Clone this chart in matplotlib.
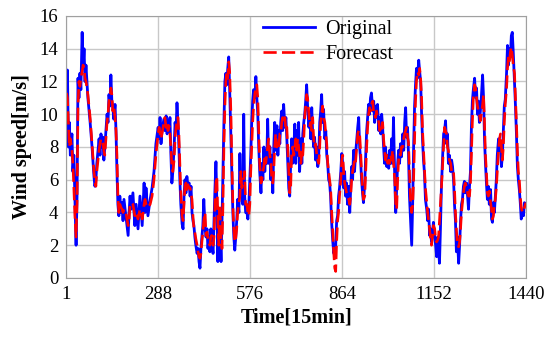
import matplotlib
matplotlib.use("Agg")
import matplotlib.pyplot as plt

t_a = [1, 4, 7, 10, 13, 18, 21, 24, 28, 31, 34, 37, 40, 43, 46, 50, 53, 56, 59, 62,
       68, 75, 81, 87, 90, 93, 96, 103, 106, 109, 112, 115, 118, 121, 128, 131, 134, 137, 140, 143,
       146, 149, 153, 156, 159, 162, 165, 168, 172, 175, 178, 181, 187, 194, 197, 200, 203, 209, 215, 219,
       225, 231]
orig_a = [11.3, 12.7, 8.0, 9.5, 7.5, 8.8, 6.5, 7.5, 4.5, 2.0, 5.0, 12.2, 11.0, 12.5, 11.5, 15.0, 12.8, 14.0, 12.0, 13.0,
          11.0, 9.5, 8.0, 6.2, 5.6, 6.0, 7.0, 8.5, 7.5, 8.8, 8.0, 8.6, 7.2, 8.0, 10.0, 9.5, 11.2, 10.5, 12.4, 10.8,
          10.5, 9.7, 10.6, 9.0, 6.5, 4.5, 3.8, 5.0, 4.0, 4.6, 3.5, 4.8, 3.8, 2.6, 4.0, 5.0, 4.2, 5.2, 3.2, 4.5,
          3.0, 5.0]
fore_a = [11.3, 11.0, 9.5, 8.0, 8.5, 7.8, 7.0, 5.5, 3.5, 2.5, 4.5, 10.5, 12.0, 11.7, 12.2, 12.6, 13.0, 12.8, 12.2, 12.0,
          11.2, 9.8, 8.2, 6.5, 6.0, 5.6, 6.5, 7.8, 8.2, 8.5, 8.3, 8.2, 7.8, 7.5, 9.5, 10.0, 10.8, 11.0, 11.6, 11.2,
          10.2, 10.5, 9.8, 9.0, 7.5, 5.0, 4.0, 4.5, 4.3, 4.2, 4.0, 4.2, 4.0, 3.2, 3.5, 4.5, 4.6, 4.5, 3.8, 4.0,
          3.6, 4.2]

t_b = [234, 238, 241, 244, 247, 250, 256, 263, 269, 275, 281, 288, 291, 294, 297, 300, 306, 309, 313, 316,
       319, 322, 325, 328, 331, 334, 338, 341, 344, 347, 350, 353, 356, 359, 363, 366, 369, 372, 375, 378,
       381, 385, 388, 391, 394, 397, 400, 403, 406, 410, 413, 416, 419, 422, 425, 428, 431, 435, 438, 441,
       444, 447, 450, 453, 456, 460, 463, 466, 469, 472, 475, 478, 481, 485, 488, 491, 494, 497, 500, 503,
       506, 509, 512, 516, 519, 522, 525, 528, 531, 534, 537, 541, 544, 547, 550, 553, 556, 559, 562, 566,
       569, 572]
orig_b = [4.2, 3.2, 4.5, 5.8, 4.0, 5.5, 3.8, 4.8, 5.5, 6.5, 8.2, 9.2, 8.5, 9.8, 8.2, 9.0, 9.7, 9.0, 9.9, 8.8,
          9.6, 9.0, 9.8, 7.5, 5.8, 6.5, 8.0, 9.5, 9.0, 10.7, 9.5, 8.0, 6.0, 4.5, 3.3, 3.0, 5.0, 6.0, 5.2, 6.2,
          5.6, 5.8, 5.0, 5.6, 4.0, 3.5, 3.2, 2.5, 2.0, 1.5, 1.8, 1.0, 0.6, 1.8, 2.5, 3.2, 4.8, 3.0, 2.5, 3.0,
          1.8, 2.5, 1.6, 3.0, 2.2, 1.5, 3.5, 5.5, 7.1, 4.5, 1.0, 4.0, 3.0, 1.0, 3.5, 6.5, 9.5, 12.0, 12.5, 11.8,
          12.8, 13.5, 11.5, 8.5, 6.0, 4.0, 2.5, 1.7, 2.5, 3.5, 4.8, 4.0, 7.6, 5.0, 6.0, 4.5, 10.0, 5.0, 4.0, 4.0,
          3.6, 4.5]
fore_b = [4.0, 3.6, 4.0, 4.5, 4.8, 4.5, 4.3, 4.5, 5.0, 6.0, 7.5, 8.8, 9.2, 8.8, 8.5, 8.8, 9.5, 9.8, 9.2, 9.5,
          9.0, 9.3, 8.8, 8.0, 6.8, 6.5, 7.2, 8.5, 9.2, 9.5, 9.8, 8.8, 7.0, 5.2, 3.8, 3.5, 4.5, 5.6, 5.8, 5.4,
          5.7, 5.5, 5.5, 5.2, 4.8, 3.8, 3.0, 2.8, 2.4, 2.0, 1.6, 1.3, 1.2, 1.5, 2.2, 2.8, 3.5, 4.0, 2.6, 2.8,
          2.4, 2.2, 2.0, 2.5, 2.6, 2.0, 2.5, 4.5, 5.8, 6.2, 3.5, 2.0, 4.5, 2.5, 1.8, 4.5, 8.0, 10.5, 12.0, 12.6,
          12.2, 13.2, 12.6, 10.0, 7.0, 4.5, 3.0, 2.2, 2.4, 3.0, 4.0, 4.6, 5.0, 6.5, 5.5, 5.8, 6.0, 6.5, 4.5, 4.5,
          4.0, 3.8]

t_c = [575, 578, 581, 584, 587, 591, 594, 597, 600, 603, 606, 610, 613, 616, 619, 622, 625, 628, 631, 634,
       638, 641, 644, 647, 650, 653, 656, 660, 663, 666, 669, 672, 675, 678, 681, 685, 688, 691, 694, 697,
       700, 703, 706, 709, 713, 716, 719, 722, 725, 728, 731, 735, 738, 741, 744, 747, 750, 753, 756, 760,
       763, 766, 769, 772, 775, 778, 781, 785, 788, 791, 794, 797, 800, 803, 806, 810, 813, 816, 819, 822,
       825, 828, 831, 835, 838, 841, 844, 847, 850, 853, 856, 860, 863, 866, 869, 872, 875, 878, 881, 885,
       888, 891, 894, 897, 900, 903, 906, 910, 913, 916, 919, 922, 925, 928, 931, 935, 938, 941, 944, 947,
       950, 953, 956, 960, 963]
orig_c = [6.0, 7.5, 9.5, 10.8, 11.5, 11.0, 12.3, 11.0, 10.0, 8.0, 6.5, 5.2, 7.0, 6.0, 8.0, 6.5, 7.8, 7.0, 9.7, 7.0,
          8.0, 6.0, 7.5, 5.2, 8.0, 9.5, 7.8, 9.3, 7.5, 9.0, 8.2, 9.5, 10.2, 9.0, 10.6, 9.2, 9.8, 8.5, 7.0, 5.5,
          5.0, 7.0, 8.5, 7.0, 8.0, 9.4, 7.0, 9.0, 7.5, 9.5, 6.5, 8.5, 7.0, 8.8, 9.5, 10.0, 10.8, 11.8, 10.5, 9.2,
          10.0, 8.5, 10.4, 8.8, 8.0, 8.6, 7.2, 8.0, 6.8, 7.6, 9.5, 10.2, 11.2, 9.5, 10.3, 8.5, 9.0, 7.5, 7.0, 6.0,
          5.8, 5.0, 3.5, 2.2, 1.5, 1.8, 2.0, 3.5, 3.8, 5.0, 5.5, 6.5, 7.6, 7.0, 5.5, 6.5, 5.0, 5.8, 4.5, 5.6,
          4.0, 5.5, 6.8, 6.0, 7.8, 6.5, 7.5, 8.5, 9.2, 9.8, 8.0, 7.2, 6.0, 5.2, 4.6, 5.8, 7.5, 9.0, 9.8, 10.6,
          10.0, 11.0, 11.3, 10.2, 10.8]
fore_c = [4.5, 6.5, 8.0, 9.5, 10.5, 11.3, 11.5, 11.8, 11.0, 9.0, 7.0, 5.8, 6.0, 6.5, 6.8, 7.5, 7.0, 7.5, 8.0, 8.5,
          7.5, 7.0, 6.0, 5.8, 6.5, 8.0, 8.8, 8.0, 8.3, 8.0, 8.8, 8.8, 9.5, 9.8, 9.5, 9.8, 9.0, 9.2, 7.8, 6.5,
          5.2, 5.5, 7.5, 8.0, 7.5, 8.0, 8.5, 7.8, 8.5, 8.0, 7.5, 7.0, 7.8, 7.5, 8.5, 9.8, 10.5, 11.2, 11.0, 10.0,
          9.3, 9.5, 9.0, 9.8, 8.5, 8.0, 8.2, 7.5, 7.2, 7.0, 8.0, 9.5, 10.0, 10.5, 9.8, 9.5, 8.8, 8.2, 7.0, 6.5,
          6.0, 5.5, 4.2, 2.8, 1.5, 0.6, 0.4, 2.2, 3.5, 4.0, 5.0, 6.0, 7.2, 7.5, 6.5, 5.8, 5.5, 5.2, 5.0, 4.8,
          4.5, 5.0, 6.0, 6.5, 6.8, 7.2, 7.0, 8.0, 8.8, 9.0, 8.8, 7.8, 6.5, 5.5, 4.8, 5.0, 6.5, 8.0, 9.2, 10.0,
          10.4, 10.2, 10.6, 10.8, 10.0]

t_d = [966, 969, 972, 975, 979, 982, 985, 988, 991, 994, 997, 1000, 1004, 1007, 1010, 1013, 1016, 1019, 1022, 1025,
       1029, 1032, 1035, 1038, 1041, 1044, 1047, 1050, 1054, 1057, 1060, 1063, 1066, 1069, 1072, 1075, 1079, 1082, 1085, 1088,
       1091, 1094, 1097, 1100, 1104, 1107, 1110, 1113, 1116, 1119, 1122, 1125, 1129, 1132, 1135, 1138, 1141, 1144, 1147, 1150,
       1154, 1157, 1160, 1163, 1166, 1169, 1172, 1175, 1179, 1182, 1185, 1188, 1191, 1194, 1197, 1200, 1204, 1207, 1210, 1213,
       1216, 1219, 1222, 1225, 1229, 1232, 1235, 1238, 1241, 1244, 1247, 1250, 1254, 1257, 1260, 1263, 1266, 1269, 1272, 1275,
       1279, 1282, 1285, 1288, 1291, 1294, 1297, 1300, 1304, 1307, 1310, 1313, 1316, 1319, 1322, 1325, 1329, 1332, 1335, 1338,
       1341, 1344, 1347, 1350, 1354, 1357, 1360, 1363, 1366, 1369, 1372, 1375, 1379, 1382, 1385, 1388, 1391, 1394, 1397, 1400,
       1404, 1407, 1410, 1413, 1416, 1419, 1422, 1425, 1429, 1432, 1435, 1440]
orig_d = [9.5, 10.5, 9.8, 10.6, 9.0, 9.8, 8.8, 10.0, 9.2, 8.0, 7.0, 8.0, 6.8, 7.5, 6.7, 7.8, 7.0, 8.5, 7.0, 9.8,
          6.0, 4.0, 5.5, 7.0, 7.8, 7.0, 8.2, 7.4, 8.8, 7.8, 9.5, 10.4, 8.6, 9.2, 7.5, 5.0, 3.2, 2.0, 4.5, 8.0,
          10.5, 11.8, 12.8, 12.2, 13.3, 12.6, 12.0, 10.0, 8.4, 7.2, 6.4, 4.8, 4.2, 3.5, 4.2, 2.6, 3.0, 2.2, 2.8, 3.4,
          2.5, 2.0, 1.3, 2.5, 1.8, 0.9, 3.0, 5.5, 7.5, 8.8, 9.0, 9.6, 8.2, 8.8, 7.0, 7.5, 6.5, 7.2, 6.8, 6.0,
          4.5, 3.5, 1.6, 2.5, 0.9, 2.0, 3.5, 4.5, 4.8, 5.6, 5.9, 5.2, 5.8, 5.0, 4.2, 5.6, 6.5, 9.2, 10.8, 11.5,
          12.2, 11.0, 11.6, 10.0, 10.8, 9.5, 10.2, 11.0, 12.4, 11.0, 8.5, 7.0, 5.8, 4.8, 5.6, 4.5, 5.4, 3.6, 3.4, 4.6,
          4.0, 5.0, 6.0, 7.5, 8.5, 7.8, 8.0, 6.8, 7.5, 9.0, 10.5, 10.9, 12.5, 14.2, 13.0, 14.0, 13.5, 14.8, 15.0, 13.8,
          12.0, 10.5, 8.8, 6.8, 6.0, 5.4, 4.6, 3.6, 4.0, 3.8, 4.6, 4.5]
fore_d = [10.0, 9.8, 10.2, 9.8, 9.5, 9.0, 9.2, 9.0, 9.5, 8.5, 7.8, 7.2, 7.5, 7.0, 7.2, 7.0, 7.5, 7.2, 7.8, 7.0,
          6.0, 4.5, 4.2, 6.0, 7.2, 7.6, 7.5, 8.0, 8.0, 8.5, 8.8, 9.0, 9.2, 8.6, 8.3, 6.5, 4.5, 4.0, 4.4, 6.0,
          8.5, 10.8, 12.0, 12.6, 12.4, 12.8, 12.2, 11.0, 9.0, 7.8, 6.5, 5.5, 4.6, 4.0, 3.5, 3.0, 2.4, 2.0, 2.5, 3.2,
          3.0, 2.4, 2.2, 2.3, 2.5, 3.5, 4.5, 5.5, 7.0, 8.2, 9.2, 9.0, 8.8, 8.0, 7.8, 7.2, 7.0, 6.5, 6.6, 6.5,
          5.5, 4.0, 3.0, 2.0, 1.9, 2.2, 3.0, 4.0, 4.6, 5.2, 5.6, 5.8, 5.5, 5.2, 5.0, 5.0, 5.8, 7.5, 9.5, 11.0,
          11.8, 11.6, 11.0, 10.5, 10.2, 10.0, 9.6, 10.0, 10.6, 11.2, 9.5, 7.5, 6.5, 5.2, 5.0, 5.3, 4.6, 4.2, 3.6, 3.8,
          4.5, 4.8, 5.5, 6.5, 7.8, 8.5, 8.8, 8.0, 7.2, 8.0, 9.5, 10.6, 11.5, 12.8, 13.5, 13.2, 13.8, 14.1, 13.6, 13.0,
          12.5, 11.0, 9.5, 7.8, 6.5, 6.0, 5.0, 4.3, 4.0, 4.2, 4.3, 4.6]

time = t_a + t_b + t_c + t_d
original = orig_a + orig_b + orig_c + orig_d
forecast = fore_a + fore_b + fore_c + fore_d

x_ticks = [1, 288, 576, 864, 1152, 1440]
y_ticks = [0, 2, 4, 6, 8, 10, 12, 14, 16]

plt.rcParams['font.family'] = ['Liberation Serif', 'DejaVu Serif']

fig = plt.figure(figsize=(5.5, 3.44), dpi=100)
ax = fig.add_axes([0.1209, 0.1919, 0.8355, 0.7616])

ax.plot(time, original, color='#0000ff', lw=2.0, label='Original')
ax.plot(time, forecast, color='#ff0000', lw=1.9, ls=(0, (5, 2)), label='Forecast')

ax.set_xlim(1, 1440)
ax.set_ylim(0, 16)
ax.set_xticks(x_ticks)
ax.set_yticks(y_ticks)
ax.tick_params(labelsize=13.5, length=0, pad=6)
ax.grid(True, color='#c8c8c8', lw=1.0)
ax.set_axisbelow(True)
for s in ax.spines.values():
    s.set_color('#a0a0a0')

ax.set_xlabel('Time[15min]', fontsize=14.5, fontweight='bold', labelpad=3)
ax.set_ylabel('Wind speed[m/s]', fontsize=14.5, fontweight='bold', labelpad=5)

ax.legend(loc='upper left', bbox_to_anchor=(0.4276, 0.985), frameon=False, fontsize=14.5,
          handlelength=2.6, handletextpad=0.5, labelspacing=0.3, borderpad=0, borderaxespad=0)

fig.savefig('out.png', dpi=100)
